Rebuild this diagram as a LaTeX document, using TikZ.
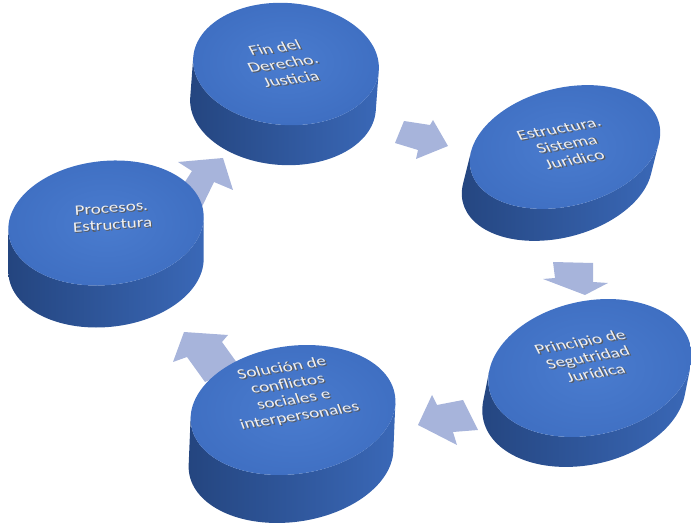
\documentclass[tikz,border=0pt]{standalone}
\usepackage{fontspec}
\setmainfont{Carlito}
\usetikzlibrary{calc}
\definecolor{topc}{HTML}{3F6FC2}
\definecolor{toplight}{HTML}{4A7CCF}
\definecolor{sidedark}{HTML}{24457F}
\definecolor{sidemid}{HTML}{3161AE}
\definecolor{sidelight}{HTML}{3A68B7}
\definecolor{arrowc}{HTML}{A7B4DB}
\definecolor{textc}{HTML}{EFEFEF}
\definecolor{shadowc}{HTML}{5A5A5A}
\tikzset{
  discside/.style={left color=sidedark, middle color=sidemid, right color=sidelight},
  disctop/.style={inner color=toplight, outer color=topc},
  arrowshape/.style={fill=arrowc, draw=none},
  labeltext/.style={font=\fontsize{19}{22}\selectfont, align=center, text=textc, transform shape, inner sep=0pt},
}
% text with a drop shadow, inside one node
\newcommand\sh[1]{\rlap{\kern1pt\raisebox{-1.5pt}{\textcolor{shadowc}{#1}}}#1}
% #1 cx, #2 cy, #3 a, #4 b, #5 rot, #6 ox, #7 oy
\newcommand\mydisc[7]{%
 \begin{scope}[shift={(#1,#2)}, rotate=#5]
   \pgfmathsetmacro\lox{(#6)*cos(#5)+(#7)*sin(#5)}
   \pgfmathsetmacro\loy{-(#6)*sin(#5)+(#7)*cos(#5)}
   \pgfmathsetmacro\nlox{-\lox}
   \pgfmathsetmacro\nloy{-\loy}
   \pgfmathsetmacro\tz{atan2(-(#4)*\lox, (#3)*\loy)}
   \pgfmathsetmacro\tzz{\tz+180}
   \pgfmathsetmacro\px{(#3)*cos(\tz)}
   \pgfmathsetmacro\py{(#4)*sin(\tz)}
   \shade[discside] (\px,\py) -- ++(\lox,\loy)
      arc[start angle=\tz, end angle=\tzz, x radius=#3, y radius=#4]
      -- ++(\nlox,\nloy)
      arc[start angle=\tzz, end angle=\tz, x radius=#3, y radius=#4] -- cycle;
   \shade[disctop] (0,0) ellipse[x radius=#3, y radius=#4];
 \end{scope}}
% #1 name, #2 x, #3 y, #4 rot, #5 slant, #6 text
\newcommand\disclabel[6]{%
 \begin{scope}[shift={(#2,#3)}, rotate=#4, xslant=#5, yscale=0.76]
  \node[labeltext] (#1) at (0,0) {#6};
 \end{scope}}
\begin{document}
\begin{tikzpicture}[x=1pt,y=1pt]
\useasboundingbox (0,0) rectangle (691,527);
% arrows
\fill[arrowshape] (404,406) -- (430,402) -- (433,407) -- (448,381) -- (416,368) -- (418,377) -- (395,384) -- cycle;
\fill[arrowshape] (553,265) -- (593,264) -- (593,245) -- (608,244) -- (585,232) -- (543,248) -- (555,249) -- cycle;
\fill[arrowshape] (418,102) -- (432,132) -- (437,122) -- (463,127) -- (478,97) -- (453,95) -- (457,82) -- cycle;
\fill[arrowshape] (184,195) -- (228,192) -- (222,185) -- (240,160) -- (205,145) -- (187,170) -- (173,165) -- cycle;
\fill[arrowshape] (223,369) -- (178,365) -- (192,356) -- (172,325) -- (198,312) -- (214,345) -- (233,337) -- cycle;
% discs
\mydisc{286}{463}{93}{61}{-4}{-3}{-40}
\mydisc{565}{380}{97}{59}{14}{-8}{-32}
\mydisc{106}{304}{98}{62}{6}{0}{-42}
\mydisc{293}{117}{103}{64}{8}{-2}{-48}
\mydisc{590}{159}{103}{67}{12}{-6}{-30}
% labels
\disclabel{d1}{283}{463}{8}{-0.35}{\sh{Fin del}\\\sh{Derecho.}\\\sh{Justicia}}
\disclabel{d2}{567}{382}{10}{-0.3}{\sh{Estructura.}\\\sh{Sistema}\\\sh{Juridico}}
\disclabel{d3}{112}{310}{4}{0}{\sh{Procesos.}\\\sh{Estructura}}
\disclabel{d4}{291}{134}{9}{-0.2}{\sh{Solución de}\\\sh{conflictos}\\\sh{sociales e}\\\sh{interpersonales}}
\disclabel{d5}{588}{169}{10}{-0.3}{\sh{Principio de}\\\sh{Segutridad}\\\sh{Jurídica}}
\end{tikzpicture}
\end{document}
